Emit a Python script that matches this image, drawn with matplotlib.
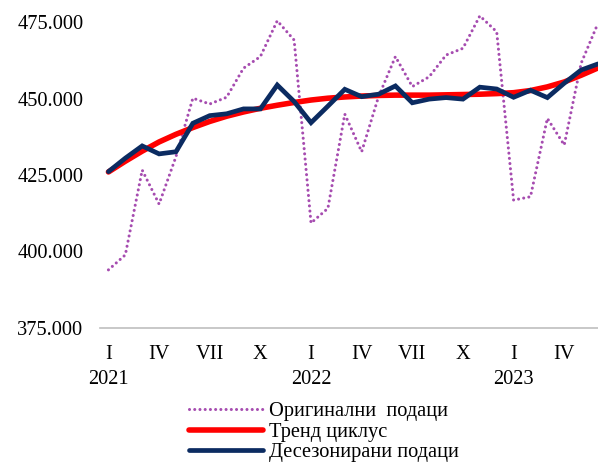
import matplotlib
matplotlib.use("Agg")
import matplotlib.pyplot as plt
import matplotlib.transforms as mtransforms

plt.rcParams['font.family'] = ['Liberation Serif', 'DejaVu Serif']

months = list(range(30))
tick_pos = [0, 3, 6, 9, 12, 15, 18, 21, 24, 27]
tick_labels = ["I", "IV", "VII", "X", "I", "IV", "VII", "X", "I", "IV"]
year_pos = [0, 12, 24]
year_labels = ["2021", "2022", "2023"]

original = [394.0, 398.9, 426.6, 415.5, 431.0, 450.1, 448.2, 450.4, 459.9, 463.7,
            475.4, 469.1, 409.3, 414.1, 444.9, 432.6, 450.6, 463.7, 453.9, 457.1,
            464.2, 466.4, 477.0, 471.8, 416.8, 417.9, 443.5, 434.8, 461.5, 474.6]
trend = [426.0, 429.5, 432.8, 435.8, 438.3, 440.5, 442.5, 444.2, 445.6, 446.8,
         447.8, 448.7, 449.5, 450.1, 450.5, 450.8, 451.0, 451.1, 451.1, 451.1,
         451.2, 451.3, 451.4, 451.6, 451.9, 452.6, 453.8, 455.4, 457.6, 460.0]
seasadj = [426.1, 430.5, 434.5, 431.9, 432.6, 441.9, 444.4, 445.0, 446.6, 446.6,
           454.4, 449.0, 442.1, 447.5, 453.0, 450.6, 451.4, 454.1, 448.6, 449.8,
           450.3, 449.8, 453.7, 453.1, 450.4, 452.7, 450.3, 455.0, 459.3, 461.3]
labels = ["Оригинални  подаци", "Тренд циклус", "Десезонирани подаци"]
yticks = [375, 400, 425, 450, 475]

FS = 14.7

fig = plt.figure(figsize=(5.98, 4.62), dpi=100)
ax = fig.add_axes([100/598, 1-328/462, 1-100/598, (328-6.7)/462])

l1, = ax.plot(months, original, color='#A64CB0', linestyle=(0, (0.01, 1.7)),
              linewidth=2.2, dash_capstyle='round', label=labels[0])
l2, = ax.plot(months, trend, color='#FF0000', linewidth=4.0,
              solid_capstyle='round', label=labels[1])
l3, = ax.plot(months, seasadj, color='#0B2B61', linewidth=3.4,
              solid_joinstyle='miter', solid_capstyle='round', label=labels[2])

ax.set_xlim(-0.5, 29)
ax.set_ylim(375, 480)
ax.set_yticks(yticks)
ax.set_yticklabels([f"{v}.000" for v in yticks])
ax.set_xticks(tick_pos)
ax.set_xticklabels(tick_labels)
ax.tick_params(axis='both', length=0, labelsize=FS)
ax.tick_params(axis='x', pad=12)
ax.tick_params(axis='y', pad=12)
for s in ['top', 'right', 'left']:
    ax.spines[s].set_visible(False)
ax.spines['bottom'].set_color('#BFBFBF')
ax.spines['bottom'].set_linewidth(1.2)

trans = mtransforms.blended_transform_factory(ax.transData, fig.transFigure)
for p, t in zip(year_pos, year_labels):
    ax.text(p, 1-379/462, t, transform=trans, ha='center', va='center', fontsize=FS)

leg = fig.legend(handles=[l1, l2, l3], labels=labels, loc='upper left',
                 bbox_to_anchor=(189/598, 1-402/462), frameon=False,
                 fontsize=FS, handlelength=3.6, handletextpad=0.3,
                 labelspacing=0.06, borderaxespad=0, borderpad=0)

fig.savefig("out.png", dpi=100)
